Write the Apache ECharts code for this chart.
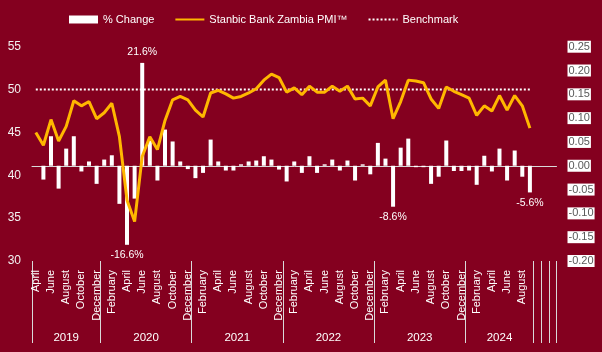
<!DOCTYPE html>
<html>
<head>
<meta charset="utf-8">
<script src="https://cdn.jsdelivr.net/npm/echarts@6/dist/echarts.min.js"></script>
<style>
    body { margin: 0; }
    #chart { width: 602px; height: 352px; outline: 1px solid #b4b4b4; outline-offset: -1px; }
</style>
</head>
<body>
<div id="chart"></div>
<script>
//基础数据
var monthNames = ['January', 'February', 'March', 'April', 'May', 'June', 'July', 'August', 'September', 'October', 'November', 'December'];
var startYear = 2019;
var startMonth = 3;        //April
var emptyCats = 3;         //trailing empty slots on the axis

var pmi = [
    45.0, 43.5, 46.5, 44.0, 45.7, 48.7, 48.1, 48.6, 46.6,                   //2019
    47.3, 48.4, 44.5, 37.1, 34.6, 42.2, 44.5, 43.0, 46.4, 48.8, 49.2, 48.8, //2020
    47.6, 46.8, 49.6, 49.9, 49.5, 49.0, 49.2, 49.6, 50.1, 51.1, 51.8, 51.4, //2021
    49.7, 50.2, 49.4, 50.4, 49.7, 49.7, 50.4, 49.8, 50.4, 48.9, 49.0, 48.1, //2022
    50.3, 51.1, 46.6, 48.6, 51.1, 51.0, 50.8, 48.9, 47.8, 50.3, 49.8, 49.4, //2023
    49.0, 47.0, 48.1, 47.5, 49.3, 47.6, 49.3, 48.1, 45.5                    //2024
];
var change = [
    null, -0.029, 0.062, -0.048, 0.036, 0.062, -0.012, 0.009, -0.038,
    0.013, 0.022, -0.080, -0.166, -0.069, 0.216, 0.053, -0.031, 0.076, 0.051, 0.009, -0.007,
    -0.026, -0.015, 0.055, 0.009, -0.010, -0.010, 0.003, 0.009, 0.011, 0.020, 0.013, -0.008,
    -0.033, 0.009, -0.015, 0.020, -0.015, 0.003, 0.013, -0.010, 0.011, -0.031, 0.003, -0.018,
    0.048, 0.015, -0.086, 0.038, 0.057, -0.003, -0.003, -0.038, -0.023, 0.053, -0.011, -0.011,
    -0.010, -0.040, 0.021, -0.012, 0.036, -0.031, 0.032, -0.023, -0.056
];
var benchmark = [
    50, 50, 50, 50, 50, 50, 50, 50, 50,
    50, 50, 50, 50, 50, 50, 50, 50, 50, 50, 50, 50,
    50, 50, 50, 50, 50, 50, 50, 50, 50, 50, 50, 50,
    50, 50, 50, 50, 50, 50, 50, 50, 50, 50, 50, 50,
    50, 50, 50, 50, 50, 50, 50, 50, 50, 50, 50, 50,
    50, 50, 50, 50, 50, 50, 50, 50, 50
];
var barLabelIdx = [12, 14, 47, 65];   //bars that carry a value label

var bgColor = '#84001f';
var lineColor = '#ffb700';
var fontName = 'Liberation Sans';

//类目和年份分组
var categories = [];
var catYear = [];
for (var i = 0; i < pmi.length; i++) {
    var m = startMonth + i;
    categories.push(monthNames[m % 12]);
    catYear.push(String(startYear + Math.floor(m / 12)));
}
for (var j = 0; j < emptyCats; j++) {
    categories.push('');
    catYear.push('blank' + j);
}

var groupStart = {};    //index -> true where a group begins
var yearLabelAt = {};   //index -> {text, even}
var s = 0;
for (var k = 1; k <= catYear.length; k++) {
    if (k === catYear.length || catYear[k] !== catYear[k - 1]) {
        groupStart[s] = true;
        var n = k - s;
        if (catYear[s].indexOf('blank') !== 0) {
            yearLabelAt[s + Math.floor((n - 1) / 2)] = { text: catYear[s], even: n % 2 === 0 };
        }
        s = k;
    }
}

var barData = change.map(function (v, idx) {
    if (barLabelIdx.indexOf(idx) < 0) return v;
    return {
        value: v,
        label: {
            show: true,
            position: v >= 0 ? 'top' : 'bottom',
            distance: 5,
            formatter: (v * 100).toFixed(1) + '%',
            color: '#fff',
            fontFamily: fontName,
            fontSize: 10.5
        }
    };
});

var myChart = echarts.init(document.getElementById('chart'));
var option = {
    backgroundColor: bgColor,
    animation: false,
    legend: {
        left: 69,
        top: 14,
        padding: 0,
        itemWidth: 29,
        itemHeight: 8,
        itemGap: 20,
        textStyle: { color: '#fff', fontFamily: fontName, fontSize: 11 },
        data: [
            { name: '% Change', icon: 'rect' },
            { name: 'Stanbic Bank Zambia PMI™', itemStyle: { opacity: 0 } },
            { name: 'Benchmark', itemStyle: { opacity: 0 } }
        ]
    },
    grid: {
        left: 32,
        right: 45.5,
        top: 46.7,
        bottom: 91
    },
    xAxis: [
        {
            type: 'category',
            data: categories,
            boundaryGap: true,
            axisLine: { show: true, lineStyle: { color: '#d9d9d9', width: 1 } },
            axisTick: { show: false },
            axisLabel: {
                interval: 1,
                rotate: 90,
                margin: 9,
                color: '#fff',
                fontFamily: fontName,
                fontSize: 11
            },
            splitLine: { show: false }
        },
        {
            type: 'category',
            data: categories,
            position: 'bottom',
            boundaryGap: true,
            axisLine: { show: false },
            axisTick: {
                show: true,
                length: 82,
                interval: function (index) { return !!groupStart[index]; },
                lineStyle: { color: '#d9d9d9', width: 1 }
            },
            axisLabel: {
                interval: 0,
                margin: 71,
                color: '#fff',
                fontFamily: fontName,
                fontSize: 11.5,
                formatter: function (value, index) {
                    var y = yearLabelAt[index];
                    if (!y) return '';
                    return y.even ? '{e|' + y.text + '}' : y.text;
                },
                rich: {
                    e: { padding: [0, 0, 0, 7.6], color: '#fff', fontFamily: fontName, fontSize: 11.5 }
                }
            },
            splitLine: { show: false }
        }
    ],
    yAxis: [
        {
            type: 'value',
            min: 30,
            max: 55,
            interval: 5,
            axisLine: { show: false },
            axisTick: { show: false },
            splitLine: { show: false },
            axisLabel: { margin: 11, color: '#f2f2f2', fontFamily: fontName, fontSize: 12 }
        },
        {
            type: 'value',
            position: 'right',
            min: -0.2,
            max: 0.25,
            interval: 0.05,
            axisLine: { show: false },
            axisTick: { show: false },
            splitLine: { show: false },
            axisLabel: {
                margin: 11,
                color: '#595959',
                backgroundColor: '#fff',
                padding: [1, 1, 0, 1],
                fontFamily: fontName,
                fontSize: 11,
                formatter: function (v) {
                    if (Math.abs(v) < 1e-9) return '0.00';
                    return v.toFixed(2);
                }
            }
        }
    ],
    series: [
        {
            name: '% Change',
            type: 'bar',
            xAxisIndex: 0,
            yAxisIndex: 1,
            barWidth: 4,
            itemStyle: { color: '#fff' },
            data: barData,
            z: 2
        },
        {
            name: 'Benchmark',
            type: 'line',
            xAxisIndex: 0,
            yAxisIndex: 0,
            symbol: 'none',
            lineStyle: { color: '#fff', width: 2, type: [2, 2] },
            itemStyle: { color: '#fff' },
            data: benchmark,
            z: 3
        },
        {
            name: 'Stanbic Bank Zambia PMI™',
            type: 'line',
            xAxisIndex: 0,
            yAxisIndex: 0,
            symbol: 'none',
            lineStyle: { color: lineColor, width: 3 },
            itemStyle: { color: lineColor },
            data: pmi,
            z: 4
        }
    ]
};
myChart.setOption(option);
</script>
</body>
</html>
